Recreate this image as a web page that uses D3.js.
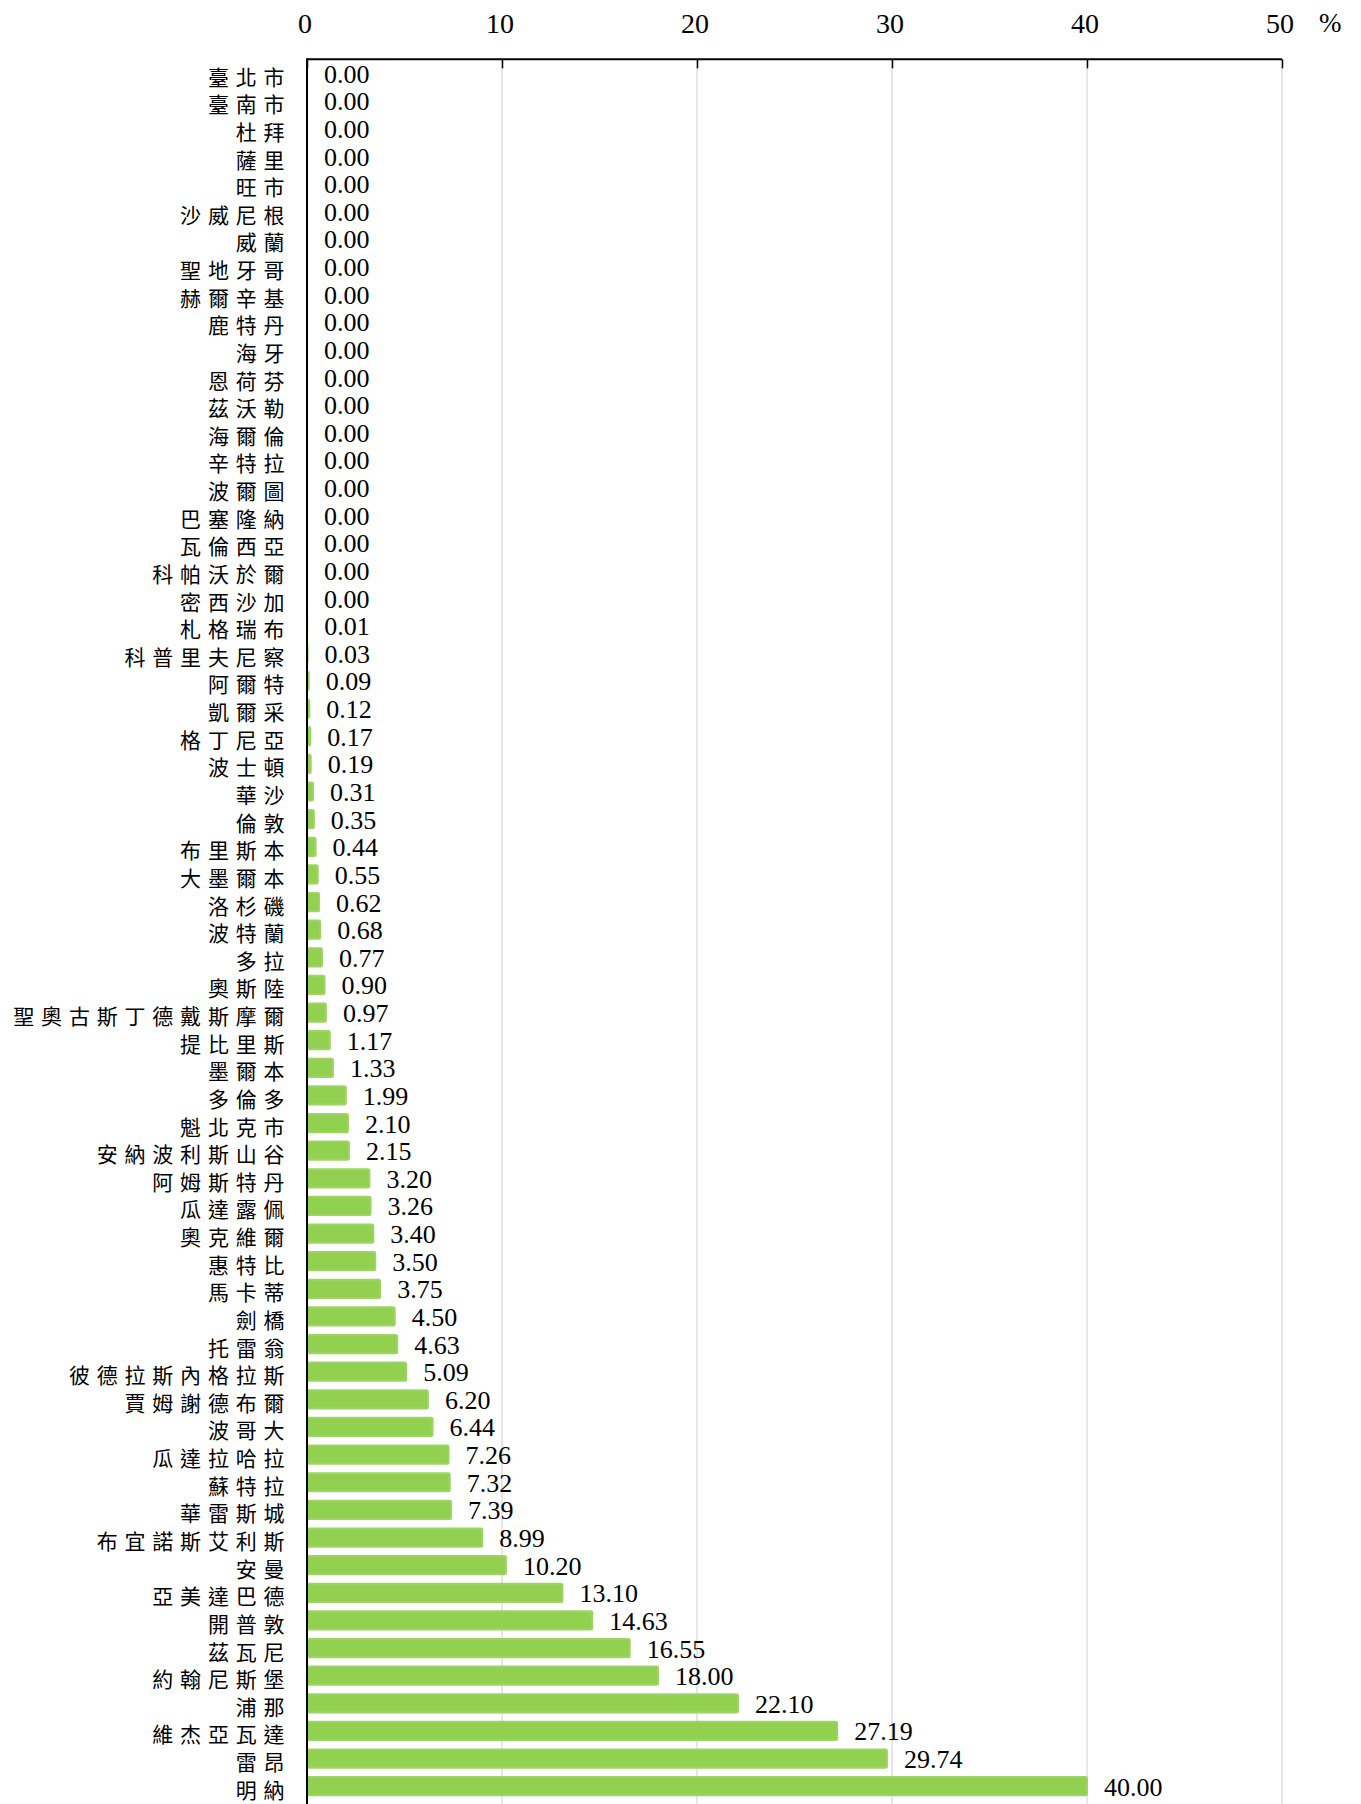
<!DOCTYPE html>
<html>
<head>
<meta charset="utf-8">
<script src="https://cdn.jsdelivr.net/npm/d3@7"></script>
<style>
  html, body { margin: 0; padding: 0; background: #fff; }
  svg { display: block; }
</style>
</head>
<body>
<svg id="chart" width="1361" height="1804"></svg>
<script>
const categories = ["臺北市","臺南市","杜拜","薩里","旺市","沙威尼根","威蘭","聖地牙哥","赫爾辛基","鹿特丹","海牙","恩荷芬","茲沃勒","海爾倫","辛特拉","波爾圖","巴塞隆納","瓦倫西亞","科帕沃於爾","密西沙加","札格瑞布","科普里夫尼察","阿爾特","凱爾采","格丁尼亞","波士頓","華沙","倫敦","布里斯本","大墨爾本","洛杉磯","波特蘭","多拉","奧斯陸","聖奧古斯丁德戴斯摩爾","提比里斯","墨爾本","多倫多","魁北克市","安納波利斯山谷","阿姆斯特丹","瓜達露佩","奧克維爾","惠特比","馬卡蒂","劍橋","托雷翁","彼德拉斯內格拉斯","賈姆謝德布爾","波哥大","瓜達拉哈拉","蘇特拉","華雷斯城","布宜諾斯艾利斯","安曼","亞美達巴德","開普敦","茲瓦尼","約翰尼斯堡","浦那","維杰亞瓦達","雷昂","明納"];
const values = [0,0,0,0,0,0,0,0,0,0,0,0,0,0,0,0,0,0,0,0.004,0.01,0.03,0.09,0.12,0.17,0.19,0.31,0.35,0.44,0.55,0.62,0.68,0.77,0.90,0.97,1.17,1.33,1.99,2.10,2.15,3.20,3.26,3.40,3.50,3.75,4.50,4.63,5.09,6.20,6.44,7.26,7.32,7.39,8.99,10.20,13.10,14.63,16.55,18.00,22.10,27.19,29.74,40.00];
const tickValues = [0,10,20,30,40,50];
const unitLabel = "%";

const svg = d3.select("#chart");
const plotLeft = 307, plotRight = 1282, plotTop = 59.3, plotBottom = 1800;

const x = d3.scaleLinear().domain([0, 50]).range([plotLeft, plotRight]);
const y = d3.scaleBand().domain(categories).range([plotTop, plotBottom]).paddingInner(0.34).paddingOuter(0.17);

// gridlines
svg.append("g").selectAll("line").data(tickValues.filter(d => d > 0)).join("line")
  .attr("x1", d => x(d)).attr("x2", d => x(d))
  .attr("y1", plotTop).attr("y2", plotBottom + 4)
  .attr("stroke", "#d9d9d9").attr("stroke-width", 1.3);

// bars
svg.append("g").selectAll("rect").data(values).join("rect")
  .attr("x", x(0))
  .attr("y", (d, i) => y(categories[i]))
  .attr("width", d => Math.max(0, x(d) - x(0)))
  .attr("height", y.bandwidth())
  .attr("rx", 1.5)
  .attr("fill", "#92D050")
  .attr("stroke", d => d > 0 ? "#9ed466" : "none")
  .attr("stroke-width", 2);

// top axis
const axis = d3.axisBottom(x).tickValues(tickValues).tickSize(9).tickFormat("");
const ag = svg.append("g").attr("transform", `translate(0,${plotTop})`).call(axis);
ag.select(".domain").attr("stroke", "#000").attr("stroke-width", 2).attr("d", `M${plotLeft},0H${plotRight}`);
ag.selectAll(".tick line").attr("stroke", "#000").attr("stroke-width", 1.5);

// tick labels
svg.append("g").selectAll("text").data(tickValues).join("text")
  .attr("x", d => x(d) - 2)
  .attr("y", 23.5)
  .attr("text-anchor", "middle")
  .attr("dominant-baseline", "central")
  .attr("font-family", "'Liberation Serif', 'Times New Roman', serif")
  .attr("font-size", 28)
  .attr("fill", "#000")
  .text(d => d);

svg.append("text")
  .attr("x", 1319).attr("y", 22.5)
  .attr("dominant-baseline", "central")
  .attr("font-family", "'Liberation Serif', serif")
  .attr("font-size", 27)
  .text(unitLabel);

// left axis line
svg.append("line")
  .attr("x1", plotLeft).attr("x2", plotLeft)
  .attr("y1", plotTop - 1).attr("y2", 1804)
  .attr("stroke", "#000").attr("stroke-width", 2);

// category labels
svg.append("g").selectAll("text").data(categories).join("text")
  .attr("x", 284.5 + 6.8)
  .attr("y", d => y(d) + y.bandwidth() / 2 + 2.5)
  .attr("text-anchor", "end")
  .attr("dominant-baseline", "central")
  .attr("font-family", "'Noto Sans CJK TC', 'Noto Sans CJK SC', sans-serif")
  .attr("font-size", 21)
  .attr("letter-spacing", 6.8)
  .attr("fill", "#000")
  .text(d => d);

// value labels
svg.append("g").selectAll("text").data(values).join("text")
  .attr("x", d => x(d) + 17)
  .attr("y", (d, i) => y(categories[i]) + y.bandwidth() / 2 + 1)
  .attr("dominant-baseline", "central")
  .attr("font-family", "'Liberation Serif', 'Times New Roman', serif")
  .attr("font-size", 26)
  .attr("fill", "#000")
  .text(d => d.toFixed(2));
</script>
</body>
</html>
